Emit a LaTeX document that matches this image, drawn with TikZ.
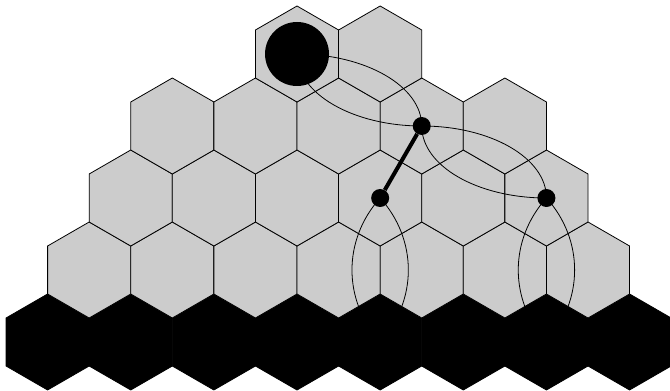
\documentclass[tikz,border=0pt]{standalone}
\usetikzlibrary{shapes.geometric}
\begin{document}
\begin{tikzpicture}[x=1pt,y=1pt,
  cell/.style={regular polygon,regular polygon sides=6,rotate=30,minimum size=96pt,inner sep=0pt,draw,line width=0.8pt,fill=gray!40},
  edgecell/.style={cell,fill=black},
  stone/.style={circle,fill=black,inner sep=0pt,minimum size=18pt},
  bigstone/.style={stone,minimum size=64pt},
  link/.style={line width=0.8pt}]
  \useasboundingbox (0,0) rectangle (670,391);
  \foreach \c in {0,...,7}
    \node[edgecell] (h0\c) at ({47.6+83.14*\c},49) {};
  \foreach \j/\lo/\hi in {1/0/6,2/0/5,3/0/4,4/1/2}
    \foreach \c in {\lo,...,\hi}
      \node[cell] (h\j\c) at ({47.6+83.14*(\c+\j/2)},{49+72*\j}) {};
  \draw[link] (h41.center) to[out=0,in=90,out distance=68pt,in distance=40pt] (h33.center);
  \draw[link] (h41.center) to[out=-90,in=180,out distance=40pt,in distance=68pt] (h33.center);
  \draw[link] (h33.center) to[out=0,in=90,out distance=69pt,in distance=40pt] (h25.center);
  \draw[link] (h33.center) to[out=-90,in=180,out distance=40pt,in distance=69pt] (h25.center);
  \draw[link] (h23.center) to[bend right=42] (h04.center);
  \draw[link] (h23.center) to[bend left=42] (h04.center);
  \draw[link] (h25.center) to[bend right=42] (h06.center);
  \draw[link] (h25.center) to[bend left=42] (h06.center);
  \node[bigstone] (s) at (h41) {};
  \node[stone] (a) at (h33) {};
  \node[stone] (b) at (h23) {};
  \node[stone] (c) at (h25) {};
  \draw[line width=4pt] (a) -- (b);
\end{tikzpicture}
\end{document}
